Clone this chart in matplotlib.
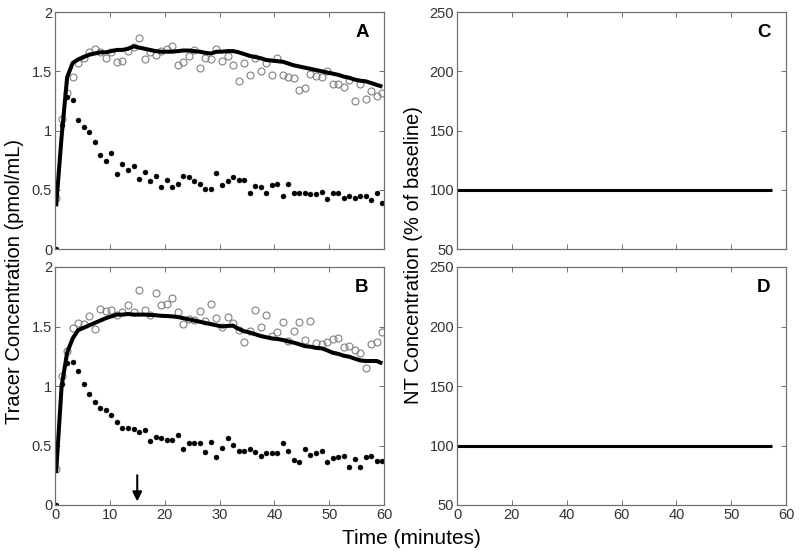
import numpy as np
import matplotlib
matplotlib.use("Agg")
import matplotlib.pyplot as plt

plt.rcParams['font.family'] = ['Liberation Sans', 'DejaVu Sans']

# sample times (minutes), one sample per minute
times = np.linspace(0.2, 59.7, 60)

# Panel A
a_open = [0.43, 1.10, 1.32, 1.45, 1.57, 1.61, 1.665, 1.69, 1.66, 1.615,
          1.665, 1.58, 1.59, 1.67, 1.705, 1.78, 1.60, 1.665, 1.64, 1.67,
          1.69, 1.715, 1.55, 1.58, 1.63, 1.68, 1.525, 1.61, 1.605, 1.69,
          1.585, 1.63, 1.55, 1.42, 1.57, 1.47, 1.61, 1.50, 1.57, 1.47,
          1.61, 1.47, 1.45, 1.44, 1.34, 1.36, 1.48, 1.46, 1.45, 1.505,
          1.395, 1.395, 1.37, 1.43, 1.245, 1.395, 1.27, 1.33, 1.29, 1.32]
a_filled = [0.0, 1.05, 1.28, 1.26, 1.09, 1.03, 0.985, 0.90, 0.79, 0.74,
            0.81, 0.63, 0.72, 0.67, 0.70, 0.59, 0.65, 0.57, 0.62, 0.52,
            0.58, 0.52, 0.55, 0.62, 0.61, 0.57, 0.55, 0.51, 0.51, 0.64,
            0.54, 0.57, 0.61, 0.58, 0.58, 0.47, 0.53, 0.52, 0.47, 0.54,
            0.55, 0.45, 0.55, 0.47, 0.47, 0.47, 0.46, 0.465, 0.48, 0.42,
            0.475, 0.47, 0.43, 0.45, 0.43, 0.45, 0.45, 0.41, 0.475, 0.385]
a_line = [0.36, 0.95, 1.45, 1.57, 1.60, 1.62, 1.64, 1.65, 1.66, 1.66,
          1.67, 1.68, 1.68, 1.69, 1.71, 1.70, 1.69, 1.68, 1.67, 1.665,
          1.665, 1.665, 1.67, 1.675, 1.675, 1.67, 1.665, 1.655, 1.65, 1.665,
          1.665, 1.67, 1.67, 1.66, 1.645, 1.63, 1.62, 1.61, 1.595, 1.59,
          1.585, 1.58, 1.565, 1.55, 1.54, 1.53, 1.52, 1.51, 1.50, 1.49,
          1.48, 1.47, 1.455, 1.445, 1.43, 1.42, 1.415, 1.40, 1.385, 1.37]

# Panel B
b_open = [0.30, 1.08, 1.29, 1.49, 1.53, 1.52, 1.59, 1.48, 1.65, 1.63,
          1.64, 1.60, 1.62, 1.68, 1.62, 1.805, 1.64, 1.60, 1.785, 1.68,
          1.685, 1.74, 1.62, 1.52, 1.56, 1.555, 1.63, 1.55, 1.685, 1.57,
          1.50, 1.58, 1.53, 1.47, 1.37, 1.46, 1.64, 1.495, 1.60, 1.42,
          1.45, 1.54, 1.38, 1.46, 1.535, 1.39, 1.55, 1.36, 1.35, 1.37,
          1.395, 1.40, 1.33, 1.335, 1.30, 1.28, 1.148, 1.35, 1.37, 1.45]
b_filled = [0.0, 1.017, 1.196, 1.20, 1.13, 1.017, 0.93, 0.866, 0.815, 0.80,
            0.76, 0.70, 0.65, 0.65, 0.64, 0.61, 0.63, 0.54, 0.57, 0.56,
            0.55, 0.55, 0.59, 0.473, 0.524, 0.518, 0.518, 0.448, 0.53, 0.403,
            0.476, 0.563, 0.504, 0.454, 0.454, 0.468, 0.448, 0.415, 0.44, 0.437,
            0.44, 0.518, 0.457, 0.375, 0.359, 0.47, 0.42, 0.434, 0.45, 0.359,
            0.395, 0.403, 0.41, 0.322, 0.387, 0.322, 0.406, 0.415, 0.367, 0.367]
b_line = [0.27, 1.0, 1.28, 1.40, 1.47, 1.49, 1.51, 1.53, 1.55, 1.57,
          1.585, 1.60, 1.60, 1.605, 1.60, 1.60, 1.60, 1.597, 1.595, 1.59,
          1.588, 1.585, 1.58, 1.57, 1.56, 1.55, 1.54, 1.53, 1.52, 1.51,
          1.50, 1.505, 1.507, 1.48, 1.46, 1.45, 1.435, 1.42, 1.41, 1.40,
          1.395, 1.387, 1.375, 1.364, 1.35, 1.335, 1.33, 1.32, 1.317, 1.30,
          1.28, 1.27, 1.255, 1.246, 1.23, 1.215, 1.21, 1.21, 1.21, 1.19]

# Panels C and D (NT concentration, % of baseline)
nt_time = [0.0, 57.4]
nt_c = [100, 100]
nt_d = [100, 100]

arrow_time = 15

x_ticks = [0, 10, 20, 30, 40, 50, 60]
x_labels_b = ['0', '10', '20', '30', '40', '50', '60']
x_labels_d = ['0', '20', '40', '60', '40', '50', '60']
tracer_ticks = [0, 0.5, 1, 1.5, 2]
tracer_labels = ['0', '0.5', '1', '1.5', '2']
nt_ticks = [50, 100, 150, 200, 250]

W, H = 800, 555
fig = plt.figure(figsize=(W / 100, H / 100), dpi=100)

def ax_at(l, t, r, b):
    return fig.add_axes([l / W, 1 - b / H, (r - l) / W, (b - t) / H])

axA = ax_at(55, 12, 384, 249)
axB = ax_at(55, 267, 384, 505)
axC = ax_at(457, 12, 786, 249)
axD = ax_at(457, 267, 786, 505)

spine_col = '#707070'
tick_col = '#333333'

def style(ax):
    for s in ax.spines.values():
        s.set_color(spine_col)
        s.set_linewidth(0.9)
    ax.tick_params(direction='in', length=3.5, width=0.7, color=spine_col,
                   labelcolor=tick_col, labelsize=10.5, top=True, right=True, pad=2)
    ax.set_xlim(0, 60)
    ax.set_xticks(x_ticks)

for ax, op, fi, ln, letter in [(axA, a_open, a_filled, a_line, 'A'),
                              (axB, b_open, b_filled, b_line, 'B')]:
    style(ax)
    ax.plot(times, op, linestyle='none', marker='o', ms=5.0, mfc='none',
            mec='#808080', mew=0.8)
    ax.plot(times, fi, linestyle='none', marker='o', ms=3.6, mfc='black',
            mec='black', mew=0.3)
    ax.plot(times, ln, color='black', lw=2.9, solid_capstyle='butt')
    ax.set_ylim(0, 2)
    ax.set_yticks(tracer_ticks)
    ax.set_yticklabels(tracer_labels)
    ax.text(0.933, 0.915, letter, transform=ax.transAxes, fontsize=13.5,
            fontweight='bold', ha='center', va='center')

axA.set_xticklabels([])
axB.set_xticklabels(x_labels_b)

for ax, vals, letter in [(axC, nt_c, 'C'), (axD, nt_d, 'D')]:
    style(ax)
    ax.plot(nt_time, vals, color='black', lw=2.2, solid_capstyle='butt')
    ax.set_ylim(50, 250)
    ax.set_yticks(nt_ticks)
    ax.text(0.933, 0.915, letter, transform=ax.transAxes, fontsize=13.5,
            fontweight='bold', ha='center', va='center')

axC.set_xticklabels([])
axD.set_xticklabels(x_labels_d)

axB.annotate('', xy=(arrow_time, 0.03), xytext=(arrow_time, 0.25),
             arrowprops=dict(arrowstyle='-|>', color='black', lw=1.5,
                             mutation_scale=14, shrinkA=0, shrinkB=0))

fig.text(15 / W, 1 - 282 / H, 'Tracer Concentration (pmol/mL)', rotation=90,
         ha='center', va='center', fontsize=14.5)
fig.text(414 / W, 1 - 255 / H, 'NT Concentration (% of baseline)', rotation=90,
         ha='center', va='center', fontsize=14.5)
fig.text(411 / W, 1 - 538 / H, 'Time (minutes)', ha='center', va='center',
         fontsize=15)

fig.savefig('out.png', dpi=100)
